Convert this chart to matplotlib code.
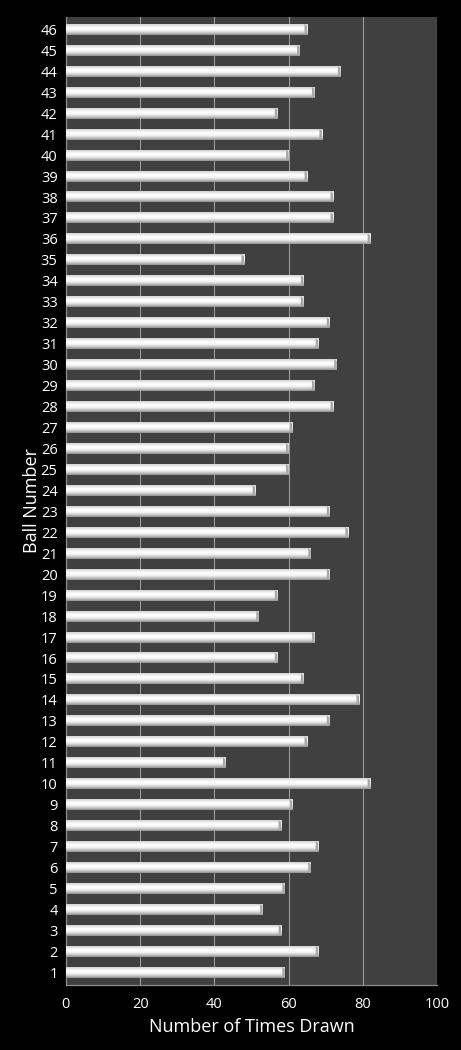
import matplotlib
matplotlib.use('Agg')
from matplotlib import pyplot as plt
from matplotlib.colors import LinearSegmentedColormap
import numpy as np

balls = list(range(1, 47))
times_drawn = [59, 68, 58, 53, 59, 66, 68, 58, 61, 82,
               43, 65, 71, 79, 64, 57, 67, 52, 57, 71,
               66, 76, 71, 51, 60, 60, 61, 72, 67, 73,
               68, 71, 64, 64, 48, 82, 72, 72, 65, 60,
               69, 57, 67, 74, 63, 65]

x_ticks = [0, 20, 40, 60, 80, 100]

plt.rcParams['font.family'] = ['Open Sans', 'DejaVu Sans']

fig = plt.figure(figsize=(4.61, 10.5), dpi=100, facecolor='black')
ax = fig.add_axes([0.143, 0.062, 0.805, 0.922])
ax.set_facecolor('#404040')

bars = ax.barh(balls, times_drawn, height=0.52, color='#e8e8e8', zorder=2)

# glossy look: vertical gradient over each bar
grad = LinearSegmentedColormap.from_list(
    'bar', ['#8e8e8e', '#bdbdbd', '#e6e6e6', '#fbfbfb', '#ffffff', '#ececec', '#cfcfcf'])
shade = np.linspace(0, 1, 64).reshape(-1, 1)
for b in bars:
    x0, y0 = b.get_x(), b.get_y()
    x1, y1 = x0 + b.get_width(), y0 + b.get_height()
    ax.imshow(shade, cmap=grad, aspect='auto', origin='lower',
              extent=[x0, x1, y0, y1], zorder=3, interpolation='bicubic')
    # darker bevel on the right end
    cap = 0.7
    ax.fill([x1 - cap, x1, x1, x1 - cap], [y0, y0 + 0.1, y1 - 0.1, y1],
            color='#a8a8a8', zorder=4, lw=0)

ax.set_xlim(0, 100)
ax.set_ylim(0.4, 46.6)
ax.set_xticks(x_ticks)
ax.set_yticks(balls)
ax.set_yticklabels([str(b) for b in balls])

ax.grid(axis='x', color='#9a9a9a', linewidth=0.8, zorder=1)
ax.set_axisbelow(True)
for side in ['top', 'right']:
    ax.spines[side].set_visible(False)
for side in ['left', 'bottom']:
    ax.spines[side].set_color('#8c8c8c')
    ax.spines[side].set_linewidth(0.9)

ax.tick_params(axis='both', colors='white', labelsize=10.5, length=0, pad=6)
ax.tick_params(axis='x', pad=9)

ax.set_xlabel('Number of Times Drawn', color='white', fontsize=13, labelpad=4)
ax.set_ylabel('Ball Number', color='white', fontsize=13, labelpad=0)

plt.savefig('out.png', dpi=100, facecolor='black')
